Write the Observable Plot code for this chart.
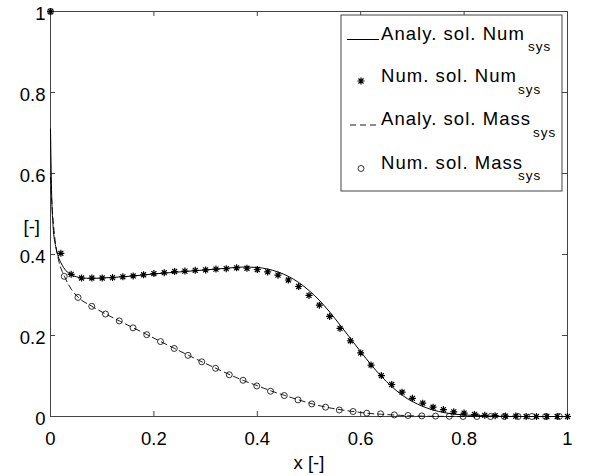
<!DOCTYPE html>
<html>
<head>
<meta charset="utf-8">
<script src="https://cdn.jsdelivr.net/npm/d3@7"></script>
<script src="https://cdn.jsdelivr.net/npm/@observablehq/plot@0.6"></script>
<style>
  html, body { margin: 0; padding: 0; background: white; }
  #chart { width: 589px; height: 476px; }
</style>
</head>
<body>
<div id="chart"></div>
<script>
// ---- Data ----
const xTicks = [0, 0.2, 0.4, 0.6, 0.8, 1];
const yTicks = [0, 0.2, 0.4, 0.6, 0.8, 1];
const tickLabels = ["0", "0.2", "0.4", "0.6", "0.8", "1"];

// Analytical solution, Num_sys (solid)
const anaNumX = [0, 0.002, 0.005, 0.01, 0.015, 0.02, 0.03, 0.04, 0.05, 0.06, 0.08, 0.1, 0.15, 0.2, 0.25, 0.3, 0.34, 0.37, 0.4, 0.42, 0.44, 0.46, 0.48, 0.5, 0.52, 0.54, 0.56, 0.58, 0.6, 0.62, 0.64, 0.66, 0.68, 0.7, 0.72, 0.74, 0.76, 0.78, 0.8, 0.85, 0.9, 1];
const anaNumY = [0.71, 0.56, 0.47, 0.42, 0.395, 0.38, 0.36, 0.35, 0.345, 0.342, 0.341, 0.342, 0.346, 0.352, 0.357, 0.362, 0.366, 0.369, 0.368, 0.364, 0.357, 0.346, 0.331, 0.311, 0.287, 0.258, 0.226, 0.193, 0.16, 0.128, 0.099, 0.074, 0.053, 0.037, 0.025, 0.016, 0.01, 0.006, 0.004, 0.001, 0, 0];

// Numerical solution, Num_sys (stars)
const numNumX = [0, 0.02, 0.04, 0.06, 0.08, 0.1, 0.12, 0.14, 0.16, 0.18, 0.2, 0.22, 0.24, 0.26, 0.28, 0.3, 0.32, 0.34, 0.36, 0.38, 0.4, 0.42, 0.44, 0.46, 0.48, 0.5, 0.52, 0.54, 0.56, 0.58, 0.6, 0.62, 0.64, 0.66, 0.68, 0.7, 0.72, 0.74, 0.76, 0.78, 0.8, 0.82, 0.84, 0.86, 0.88, 0.9, 0.92, 0.94, 0.96, 0.98, 1];
const numNumY = [1, 0.403, 0.351, 0.342, 0.342, 0.342, 0.343, 0.345, 0.347, 0.35, 0.353, 0.355, 0.358, 0.359, 0.361, 0.362, 0.364, 0.365, 0.367, 0.366, 0.363, 0.357, 0.349, 0.337, 0.321, 0.299, 0.275, 0.247, 0.2175, 0.187, 0.157, 0.127, 0.101, 0.079, 0.06, 0.045, 0.033, 0.023, 0.017, 0.0115, 0.0085, 0.005, 0.003, 0.002, 0.001, 0.001, 0, 0, 0, 0, 0];

// Analytical solution, Mass_sys (dashed)
const anaMassX = [0, 0.003, 0.008, 0.015, 0.027, 0.04, 0.053, 0.08, 0.107, 0.133, 0.16, 0.187, 0.213, 0.24, 0.267, 0.293, 0.32, 0.347, 0.373, 0.4, 0.427, 0.453, 0.48, 0.507, 0.533, 0.56, 0.587, 0.613, 0.64, 0.667, 0.693, 0.72, 0.8, 1];
const anaMassY = [0.59, 0.52, 0.445, 0.39, 0.346, 0.315, 0.295, 0.272, 0.253, 0.236, 0.219, 0.202, 0.185, 0.168, 0.151, 0.135, 0.119, 0.103, 0.089, 0.076, 0.063, 0.052, 0.041, 0.031, 0.023, 0.017, 0.012, 0.008, 0.0055, 0.0035, 0.002, 0.001, 0, 0];

// Numerical solution, Mass_sys (circles)
const numMassX = [0, 0.0266, 0.0532, 0.0798, 0.1064, 0.133, 0.1596, 0.1862, 0.2128, 0.2394, 0.266, 0.2926, 0.3192, 0.3458, 0.3724, 0.399, 0.4256, 0.4522, 0.4788, 0.5054, 0.532, 0.5586, 0.5852, 0.6118, 0.6384, 0.665, 0.6916, 0.7182, 0.7448, 0.7714, 0.798, 0.8246, 0.8512, 0.8778, 0.9044, 0.931, 0.9576, 0.9842];
const numMassY = [1, 0.346, 0.294, 0.272, 0.253, 0.236, 0.219, 0.202, 0.185, 0.168, 0.151, 0.135, 0.119, 0.103, 0.0895, 0.0755, 0.0624, 0.0517, 0.041, 0.031, 0.023, 0.016, 0.0123, 0.0082, 0.0066, 0.004, 0.0025, 0.0015, 0.001, 0.0005, 0, 0, 0, 0, 0, 0, 0, 0];

const legendLabels = ["Analy. sol. Num", "Num. sol. Num", "Analy. sol. Mass", "Num. sol. Mass"];
const legendSub = "sys";

// ---- Helpers ----
const zip = (xs, ys) => xs.map((x, i) => ({x, y: ys[i]}));
const fmt = d => tickLabels[yTicks.indexOf(+d.toFixed(1))] ?? String(d);

const star8 = {
  draw(ctx, size) {
    const r = Math.sqrt(size / Math.PI);
    const d = r * Math.SQRT1_2;
    ctx.moveTo(-r, 0); ctx.lineTo(r, 0);
    ctx.moveTo(0, -r); ctx.lineTo(0, r);
    ctx.moveTo(-d, -d); ctx.lineTo(d, d);
    ctx.moveTo(-d, d); ctx.lineTo(d, -d);
  }
};

const W = 589, H = 476, mT = 11, mR = 22, mB = 60, mL = 50;
const pw = W - mL - mR, ph = H - mT - mB;
const axisColor = "#444";
const FONT = "Liberation Sans, Arial, Helvetica, sans-serif";

const chart = Plot.plot({
  width: W, height: H,
  marginTop: mT, marginRight: mR, marginBottom: mB, marginLeft: mL,
  style: {fontFamily: FONT, fontSize: "18.5px", background: "white", color: "black"},
  x: {domain: [0, 1]},
  y: {domain: [0, 1]},
  marks: [
    Plot.frame({stroke: axisColor, strokeWidth: 1}),
    Plot.tickX(xTicks, {x: d => d, insetTop: ph - 5, stroke: axisColor}),
    Plot.tickX(xTicks, {x: d => d, insetBottom: ph - 5, stroke: axisColor}),
    Plot.tickY(yTicks, {y: d => d, insetRight: pw - 5, stroke: axisColor}),
    Plot.tickY(yTicks, {y: d => d, insetLeft: pw - 5, stroke: axisColor}),
    Plot.axisX({ticks: xTicks, tickSize: 0, tickPadding: 15, label: null, tickFormat: fmt, fontSize: 18.5}),
    Plot.axisY({ticks: yTicks, tickSize: 0, tickPadding: 5, label: null, tickFormat: fmt, fontSize: 18.5, dy: 3}),
    Plot.line(zip(anaNumX, anaNumY), {x: "x", y: "y", stroke: "black", strokeWidth: 1, curve: "monotone-x"}),
    Plot.dot(zip(numNumX, numNumY), {x: "x", y: "y", symbol: star8, r: 3.5, stroke: "black", strokeWidth: 1.2, fill: "none"}),
    Plot.line(zip(anaMassX, anaMassY), {x: "x", y: "y", stroke: "black", strokeWidth: 0.9, strokeDasharray: "6,4", curve: "monotone-x"}),
    Plot.dot(zip(numMassX, numMassY), {x: "x", y: "y", symbol: "circle", r: 3, stroke: "black", strokeWidth: 0.8, fill: "none"}),
    Plot.text(["[-]"], {text: d => d, frameAnchor: "left", dx: -27, dy: 13, fontSize: 18.5}),
    Plot.text(["x [-]"], {text: d => d, frameAnchor: "bottom", dy: 52, lineAnchor: "bottom", fontSize: 18.5})
  ]
});

// ---- Legend (inside the axes, top right) ----
const svg = d3.select(chart);
const lg = svg.append("g").attr("font-family", FONT).attr("text-anchor", "start");
lg.append("rect").attr("x", 341).attr("y", 15).attr("width", 221).attr("height", 176)
  .attr("fill", "white").attr("stroke", axisColor).attr("stroke-width", 1);
const rows = [39.5, 82, 125, 168.5];
const subX = [528, 518, 533, 518];
rows.forEach((yb, i) => {
  if (i === 0) {
    lg.append("line").attr("x1", 347).attr("x2", 379).attr("y1", yb).attr("y2", yb)
      .attr("stroke", "black").attr("stroke-width", 1);
  } else if (i === 2) {
    lg.append("line").attr("x1", 350).attr("x2", 380).attr("y1", yb).attr("y2", yb)
      .attr("stroke", "black").attr("stroke-width", 0.9).attr("stroke-dasharray", "6,4");
  } else if (i === 1) {
    lg.append("path").attr("transform", `translate(361,${yb - 1})`)
      .attr("d", d3.symbol().type(star8).size(Math.PI * 3.5 * 3.5)())
      .attr("stroke", "black").attr("stroke-width", 1.2).attr("fill", "none");
  } else {
    lg.append("circle").attr("cx", 361).attr("cy", yb).attr("r", 3)
      .attr("stroke", "black").attr("stroke-width", 0.8).attr("fill", "none");
  }
  lg.append("text").attr("x", 381).attr("y", yb).attr("font-size", 18.5)
    .attr("text-anchor", "start").attr("letter-spacing", 1.05).attr("fill", "black").text(legendLabels[i]);
  lg.append("text").attr("x", subX[i]).attr("y", yb + 11.5).attr("font-size", 13.5)
    .attr("text-anchor", "start").attr("letter-spacing", 1).attr("fill", "black").text(legendSub);
});

document.getElementById("chart").appendChild(chart);
</script>
</body>
</html>
